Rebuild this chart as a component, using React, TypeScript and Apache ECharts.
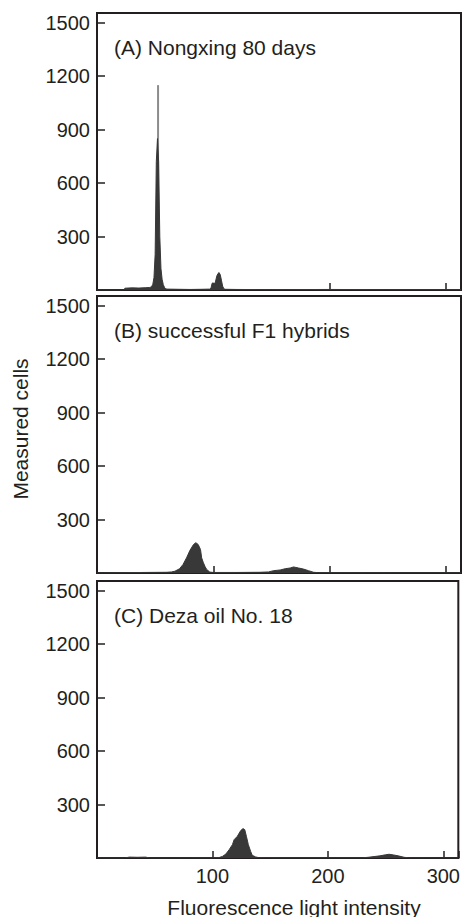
import React, { useEffect, useRef } from 'react';
import * as echarts from 'echarts';

// ---------- data ----------
const xTickValues = [100, 200, 300];
const yTickValues = [300, 600, 900, 1200, 1500];
const panelLabels = ['(A) Nongxing 80 days', '(B) successful F1 hybrids', '(C) Deza oil No. 18'];
const xAxisTitle = 'Fluorescence light intensity';
const yAxisTitle = 'Measured cells';

// Panel A: Nongxing 80 days
const xA = [0, 23, 24, 30, 36, 42, 45, 46, 47, 48, 49, 50, 51, 52, 53, 54, 55, 56, 57, 58, 59, 60, 70, 80, 90, 97, 98, 99, 100, 101, 102, 103, 104, 105, 106, 107, 108, 109, 110, 120, 150, 200, 250, 313];
const yA = [0, 0, 10, 12, 11, 13, 14, 16, 20, 32, 70, 200, 720, 850, 720, 300, 120, 60, 30, 15, 8, 5, 4, 3, 4, 5, 10, 38, 40, 30, 50, 78, 92, 98, 85, 55, 22, 8, 4, 3, 2, 3, 2, 2];
// lighter top of the main peak of panel A
const xAPeakTop = [52.5];
const yAPeakTop = [1150];

// Panel B: successful F1 hybrids
const xB = [0, 40, 60, 64, 67, 71, 74, 77, 80, 83, 85, 87, 89, 90, 91.5, 93, 94.3, 97, 100, 120, 140, 147.5, 151.8, 157.5, 161.8, 166.1, 169, 173.3, 177.6, 181.9, 186.2, 190, 250, 313];
const yB = [0, 3, 4, 6, 10, 24, 48, 85, 128, 160, 170, 160, 132, 85, 57, 35, 20, 5, 3, 3, 4, 6, 13, 17, 24, 28, 34, 28, 22, 13, 4, 2, 1, 1];

// Panel C: Deza oil No. 18
const xC = [0, 24, 28, 35, 42, 46, 60, 100, 106, 108.7, 111.6, 114.5, 117.3, 118.8, 121.6, 124.5, 126.5, 128, 129.4, 131.1, 133.1, 134.5, 137.4, 140, 160, 200, 230, 235, 240, 245, 250, 253, 257, 261, 266, 270, 313];
const yC = [0, 0, 5, 4, 5, 0, 0, 1, 3, 9, 22, 47, 75, 103, 122, 154, 165, 159, 122, 75, 37, 15, 6, 2, 1, 1, 1, 4, 8, 12, 18, 21, 17, 12, 4, 1, 0];

// ---------- styling / layout ----------
const FONT = '"Liberation Sans", Arial, Helvetica, sans-serif';
const INK = '#231f20';
const FILL = '#383838';
const gridTops = [13, 296, 581];
const gridHeight = 277;
const X_MIN = 0;
const X_MAX = 313;
const Y_MAX = 1555;

const zip = (xs: number[], ys: number[]) => xs.map((x, i) => [x, ys[i]]);

export default function App() {
  const ref = useRef<HTMLDivElement>(null);

  useEffect(() => {
    if (!ref.current) return;
    const chart = echarts.init(ref.current, undefined, { renderer: 'svg' });

    const grids = gridTops.map((top) => ({
      left: 97,
      right: 2,
      top,
      height: gridHeight,
      show: true,
      borderColor: INK,
      borderWidth: 2,
      backgroundColor: 'transparent',
    }));

    const xAxes = gridTops.map((_, i) => ({
      type: 'value',
      gridIndex: i,
      min: X_MIN,
      max: X_MAX,
      interval: 100,
      axisLine: { show: true, lineStyle: { color: INK, width: 2 } },
      axisTick: { show: true, inside: true, length: 7, lineStyle: { color: INK, width: 1.5 } },
      axisLabel: {
        show: i === 2,
        color: INK,
        fontSize: 20,
        fontFamily: FONT,
        margin: 8,
        formatter: (v: number) => (xTickValues.includes(v) ? String(v) : ''),
      },
      splitLine: { show: false },
    }));

    const yAxes = gridTops.map((_, i) => ({
      type: 'value',
      gridIndex: i,
      min: 0,
      max: Y_MAX,
      interval: 300,
      axisLine: { show: true, lineStyle: { color: INK, width: 2 } },
      axisTick: { show: true, inside: true, length: 8, lineStyle: { color: INK, width: 1.5 } },
      axisLabel: {
        color: INK,
        fontSize: 20,
        fontFamily: FONT,
        margin: 7,
        formatter: (v: number) => (yTickValues.includes(v) ? String(v) : ''),
      },
      splitLine: { show: false },
    }));

    const areaSeries = (data: number[][], idx: number) => ({
      type: 'line',
      xAxisIndex: idx,
      yAxisIndex: idx,
      data,
      symbol: 'none',
      lineStyle: { color: FILL, width: 1 },
      areaStyle: { color: FILL, opacity: 1 },
      z: 3,
    });

    const graphic: any[] = panelLabels.map((t, i) => ({
      type: 'text',
      x: 114,
      y: gridTops[i] + 34,
      style: {
        text: t,
        fill: INK,
        font: `21px ${FONT}`,
        verticalAlign: 'middle',
        align: 'left',
      },
    }));
    graphic.push({
      type: 'text',
      x: 20,
      y: 429,
      rotation: Math.PI / 2,
      style: { text: yAxisTitle, fill: INK, font: `21px ${FONT}`, align: 'center', verticalAlign: 'middle' },
    });
    graphic.push({
      type: 'text',
      x: 294,
      y: 907,
      style: { text: xAxisTitle, fill: INK, font: `21px ${FONT}`, align: 'center', verticalAlign: 'middle' },
    });

    chart.setOption({
      animation: false,
      grid: grids,
      xAxis: xAxes,
      yAxis: yAxes,
      series: [
        {
          type: 'bar',
          xAxisIndex: 0,
          yAxisIndex: 0,
          data: zip(xAPeakTop, yAPeakTop),
          barWidth: 2,
          itemStyle: { color: '#8c8c8c' },
          z: 2,
        },
        areaSeries(zip(xA, yA), 0),
        areaSeries(zip(xB, yB), 1),
        areaSeries(zip(xC, yC), 2),
      ],
      graphic,
    });

    return () => chart.dispose();
  }, []);

  return (
    <div
      ref={ref}
      style={{ position: 'fixed', left: 0, top: 0, width: 463, height: 917, background: '#fff' }}
    />
  );
}
